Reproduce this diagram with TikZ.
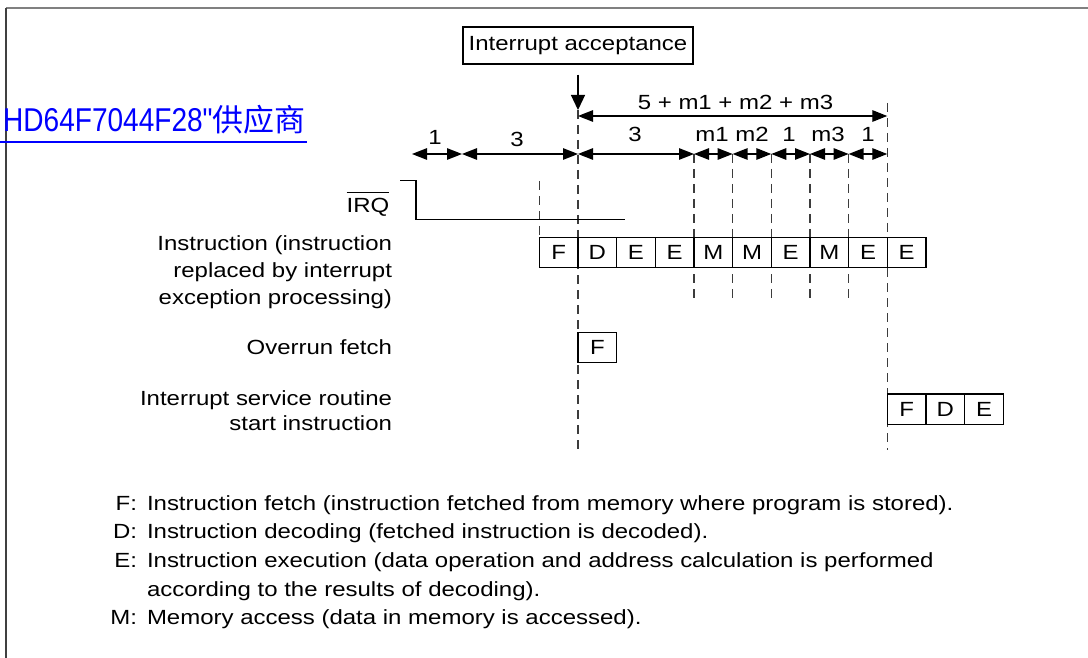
\documentclass[tikz,border=0pt]{standalone}
\usepackage{fontspec}
\setmainfont[FakeStretch=1.17]{Liberation Sans}
\newfontfamily\latinblue[FakeStretch=0.85,Ligatures=TeXOff]{Liberation Sans}
\newfontfamily\cjkfont{Noto Sans CJK SC}
\usetikzlibrary{arrows.meta}
\newcommand{\mainsz}{\fontsize{20.5}{27}\selectfont}
\definecolor{framegray}{RGB}{128,128,128}
\definecolor{dashgray}{RGB}{60,60,60}
\definecolor{linkblue}{RGB}{0,0,255}
\begin{document}
\begin{tikzpicture}[x=1pt,y=-1pt,
  txt/.style={inner sep=0pt, outer sep=0pt, font=\mainsz},
  cell/.style={draw, line width=1.2pt, minimum width=38.67pt, minimum height=29.8pt,
    inner sep=0pt, outer sep=0pt, anchor=north west, font=\mainsz},
  dimarr/.style={line width=1.3pt, {Triangle[length=15pt,width=11.5pt]}-{Triangle[length=15pt,width=11.5pt]}},
  guide/.style={dashgray, line width=1.3pt, dash pattern=on 9pt off 6pt},
  sig/.style={line width=1.2pt}
]
\useasboundingbox (0,0) rectangle (1088,658);
% frame
\draw[framegray, line width=1.5pt] (6,8) -- (1088,8);
\draw[black!75, line width=1.3pt] (6,8) -- (6,658);

% blue link text
\node[inner sep=0pt, anchor=base west, text=linkblue] (link) at (3,131.7)
  {\latinblue\fontsize{33}{33}\selectfont HD64F7044F28"\cjkfont\fontsize{31}{31}\selectfont 供应商};
\draw[linkblue, line width=2pt] (0,141.7) -- (307,141.7);

% interrupt acceptance
\node[draw, line width=1.2pt, minimum width=230pt, minimum height=37pt, inner sep=0pt, font=\mainsz] (acc) at (578,45.5) {Interrupt acceptance};
\coordinate (accTip) at (578,110);
\draw[line width=1.3pt, -{Triangle[length=15pt,width=14pt]}] ([yshift=-10pt]acc.south) -- (accTip);

% guide lines
\coordinate (gA1) at (539.3,181); \coordinate (gA2) at (539.3,237.5);
\coordinate (gB2) at (578,450);
\coordinate (gZ1) at (887.3,103); \coordinate (gZ2) at (887.3,450);
\draw[guide] (gA1) -- (gA2);
\draw[guide] (accTip) -- (gB2);
\draw[guide] (gZ1) -- (gZ2);
\foreach \xx in {694,732.6,771.3,810,848.6} {
  \draw[guide] (\xx,154) -- (\xx,302);
}

% dimension lines
\coordinate (d0) at (412,154);
\coordinate (d1) at (462,154);
\coordinate (d2) at (578,154);
\coordinate (d3) at (694,154);
\coordinate (d4) at (732.6,154);
\coordinate (d5) at (771.3,154);
\coordinate (d6) at (810,154);
\coordinate (d7) at (848.6,154);
\coordinate (d8) at (887.3,154);
\draw[dimarr] (d0) -- (d1);
\draw[dimarr] (d1) -- (d2);
\draw[dimarr] (d2) -- (d3);
\draw[dimarr] (d3) -- (d4);
\draw[dimarr] (d4) -- (d5);
\draw[dimarr] (d5) -- (d6);
\draw[dimarr] (d6) -- (d7);
\draw[dimarr] (d7) -- (d8);
\coordinate (u0) at (578,116);
\coordinate (u1) at (887.3,116);
\draw[dimarr] (u0) -- (u1);

\node[txt, anchor=base] (l1) at (435,145) {1};
\node[txt, anchor=base] (l2) at (517,147) {3};
\node[txt, anchor=base] (l3) at (635,141.7) {3};
\node[txt, anchor=base] (l4) at (712,141.7) {m1};
\node[txt, anchor=base] (l5) at (752,141.7) {m2};
\node[txt, anchor=base] (l6) at (789,141.7) {1};
\node[txt, anchor=base] (l7) at (828,141.7) {m3};
\node[txt, anchor=base] (l8) at (868,141.7) {1};
\node[txt, anchor=base] (ltot) at (735.5,109.3) {5 + m1 + m2 + m3};

% IRQ signal
\node[txt, anchor=base east] (irq) at (389.3,212.7) {IRQ};
\draw[line width=1.1pt] ([yshift=5.7pt]irq.north west) -- ([yshift=5.7pt]irq.north east);
\coordinate (q0) at (400,180.7);
\coordinate (q1) at (416,180.7);
\coordinate (q2) at (416,219.3);
\coordinate (q3) at (625,219.3);
\draw[sig] (q0) -- (q1) -- (q2) -- (q3);

% instruction row
\foreach \l [count=\i] in {F,D,E,E,M,M,E,M,E,E} {
  \node[cell] (r\i) at ({539.3+(\i-1)*38.67},237.5) {\l};
}
% overrun fetch
\node[cell] (ov) at (578,332.7) {F};
% service routine
\node[cell, minimum height=30.3pt] (s1) at (887.3,394) {F};
\node[cell, minimum height=30.3pt] (s2) at (926,394) {D};
\node[cell, minimum height=30.3pt] (s3) at (964.7,394) {E};

% left labels
\node[txt, anchor=base east] (lab1) at (392,250.7) {Instruction (instruction};
\node[txt, anchor=base east] (lab2) at (392,277.7) {replaced by interrupt};
\node[txt, anchor=base east] (lab3) at (392,304.7) {exception processing)};
\node[txt, anchor=base east] (lab4) at (392,354) {Overrun fetch};
\node[txt, anchor=base east] (lab5) at (392,405) {Interrupt service routine};
\node[txt, anchor=base east] (lab6) at (392,430.7) {start instruction};

% legend
\node[txt, anchor=base east] (kF) at (137,510) {F:};
\node[txt, anchor=base east] (kD) at (137,538.7) {D:};
\node[txt, anchor=base east] (kE) at (137,567.3) {E:};
\node[txt, anchor=base east] (kM) at (137,624.5) {M:};
\node[txt, anchor=base west] (tF) at (147,510) {Instruction fetch (instruction fetched from memory where program is stored).};
\node[txt, anchor=base west] (tD) at (147,538.7) {Instruction decoding (fetched instruction is decoded).};
\node[txt, anchor=base west] (tE) at (147,567.3) {Instruction execution (data operation and address calculation is performed};
\node[txt, anchor=base west] (tE2) at (147,596) {according to the results of decoding).};
\node[txt, anchor=base west] (tM) at (147,624.5) {Memory access (data in memory is accessed).};
\end{tikzpicture}
\end{document}
